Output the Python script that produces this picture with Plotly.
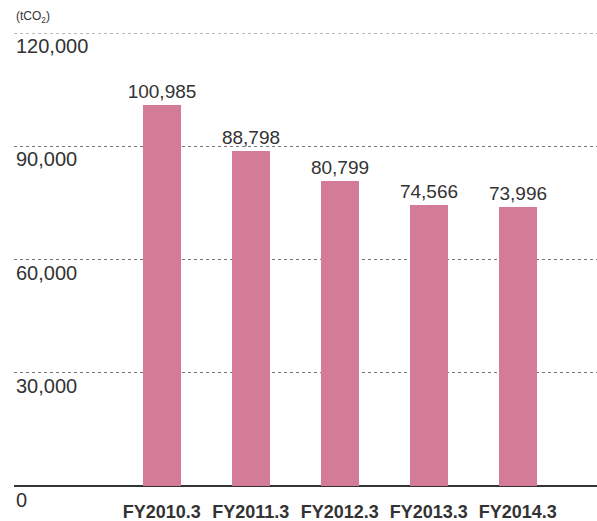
import plotly.graph_objects as go

categories = ["FY2010.3", "FY2011.3", "FY2012.3", "FY2013.3", "FY2014.3"]
values = [100985, 88798, 80799, 74566, 73996]
y_ticks = [0, 30000, 60000, 90000, 120000]
y_tick_labels = ["0", "30,000", "60,000", "90,000", "120,000"]
unit_label = "(tCO<sub>2</sub>)"

BAR = "#d47c97"
TXT = "#333333"
FONT = "Liberation Sans, Arial, sans-serif"

fig = go.Figure()
fig.add_trace(go.Bar(
    x=categories, y=values,
    marker=dict(color=BAR, line=dict(width=0)),
    width=0.43,
    text=[f"{v:,}" for v in values],
    textposition="outside",
    constraintext="none",
    textfont=dict(family=FONT, size=19, color=TXT),
    cliponaxis=False,
))

annotations = []
for v, lab in zip(y_ticks, y_tick_labels):
    annotations.append(dict(
        x=0, xref="paper", y=v, yref="y", text=lab, showarrow=False,
        xanchor="left", yanchor="top", xshift=0, yshift=0 if v else -1,
        font=dict(family=FONT, size=20, color=TXT),
    ))
annotations.append(dict(
    x=0, xref="paper", y=1, yref="paper", text=unit_label, showarrow=False,
    xanchor="left", yanchor="bottom", yshift=6, xshift=0,
    font=dict(family=FONT, size=12, color=TXT),
))

shapes = [dict(
    type="line", xref="paper", x0=0, x1=1, yref="y", y0=y_ticks[-1], y1=y_ticks[-1],
    line=dict(color="#777777", width=1, dash="dot"), layer="below",
)]

fig.update_layout(
    width=597, height=521,
    margin=dict(l=14, r=0, t=33, b=35),
    paper_bgcolor="white", plot_bgcolor="white",
    showlegend=False,
    annotations=annotations,
    shapes=shapes,
    bargap=0,
    xaxis=dict(
        type="category", range=[-1.66, 4.89], automargin=False,
        showgrid=False, zeroline=False, showline=False, ticks="",
        tickfont=dict(family=FONT, size=18, color=TXT, weight="bold"),
        ticklabelstandoff=13,
    ),
    yaxis=dict(
        range=[0, 120000], tickvals=y_ticks, showticklabels=False, automargin=False,
        showgrid=True, gridcolor="#777777", griddash="dot", gridwidth=1,
        zeroline=True, zerolinecolor="#333333", zerolinewidth=1.5,
        showline=False, ticks="",
    ),
)

fig.write_html(
    "out.html",
    config={"displayModeBar": False},
    post_script="document.body.style.margin='0';document.body.style.overflow='hidden';",
)
